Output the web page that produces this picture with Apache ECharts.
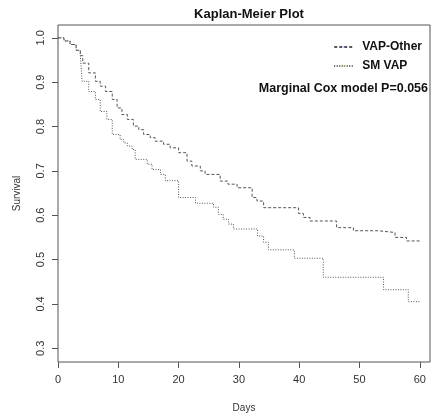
<!DOCTYPE html>
<html>
<head>
<meta charset="utf-8">
<script src="https://cdn.jsdelivr.net/npm/echarts@6/dist/echarts.min.js"></script>
<style>
  html, body { margin: 0; padding: 0; background: #fff; }
  #main { width: 435px; height: 418px; }
</style>
</head>
<body>
<div id="main"></div>
<script>
// survival estimates (step down at each day)
var otherDays = [0, 1.0, 2.0, 3.0, 3.7, 4.1, 5.1, 6.2, 7.0, 7.9, 9.0, 9.8, 10.6, 11.5, 12.5, 13.4, 14.2, 15.3, 16.1, 17.5, 18.6, 20.0, 21.4, 22.2, 23.6, 24.4, 26.9, 28.2, 29.7, 32.2, 33.0, 34.1, 39.9, 40.7, 41.8, 46.2, 49.0, 53.1, 55.9, 57.8, 60.0];
var otherSurv = [1.0, 0.993, 0.985, 0.972, 0.96, 0.943, 0.921, 0.902, 0.891, 0.879, 0.861, 0.842, 0.827, 0.816, 0.801, 0.793, 0.782, 0.775, 0.767, 0.760, 0.752, 0.741, 0.722, 0.711, 0.700, 0.692, 0.677, 0.670, 0.662, 0.640, 0.632, 0.617, 0.604, 0.595, 0.587, 0.572, 0.565, 0.561, 0.550, 0.542, 0.542];

var smDays = [0, 1.0, 2.0, 3.0, 3.7, 4.0, 5.1, 6.2, 7.0, 8.1, 9.0, 10.3, 10.9, 11.5, 12.3, 12.8, 14.8, 15.6, 17.0, 17.8, 20.0, 22.8, 25.8, 26.6, 27.4, 28.3, 29.1, 33.1, 34.1, 34.9, 39.2, 44.0, 54.0, 58.1, 60.0];
var smSurv = [1.0, 0.993, 0.985, 0.972, 0.96, 0.902, 0.879, 0.861, 0.834, 0.816, 0.782, 0.771, 0.763, 0.756, 0.748, 0.726, 0.715, 0.703, 0.692, 0.678, 0.640, 0.627, 0.618, 0.602, 0.591, 0.580, 0.569, 0.553, 0.539, 0.522, 0.503, 0.460, 0.432, 0.405, 0.405];

var xTicks = [0, 10, 20, 30, 40, 50, 60];
var yTicks = [0.3, 0.4, 0.5, 0.6, 0.7, 0.8, 0.9, 1.0];

function pairs(xs, ys) {
  return xs.map(function (x, i) { return [x, ys[i]]; });
}

var font = 'Liberation Sans, Arial, sans-serif';
var chart = echarts.init(document.getElementById('main'));

chart.setOption({
  animation: false,
  backgroundColor: '#fff',
  title: {
    text: 'Kaplan-Meier Plot',
    left: 244, top: 3, textAlign: 'center',
    textStyle: { fontFamily: font, fontSize: 13, fontWeight: 'bold', color: '#111' }
  },
  legend: {
    orient: 'vertical', right: 8, top: 36,
    itemWidth: 20, itemHeight: 2, itemGap: 7,
    textStyle: { fontFamily: font, fontSize: 12, fontWeight: 'bold', color: '#111', padding: [0, 0, 0, 3] },
    data: ['VAP-Other', 'SM VAP']
  },
  graphic: [{
    type: 'text', right: 7, top: 82,
    style: { text: 'Marginal Cox model P=0.056', font: 'bold 12.5px ' + font, fill: '#111' }
  }],
  grid: {
    left: 58, right: 5, top: 25, bottom: 54,
    show: true, borderColor: '#555', borderWidth: 1
  },
  xAxis: {
    type: 'value', min: 0, max: 61.7,
    name: 'Days', nameLocation: 'middle', nameGap: 41,
    nameTextStyle: { fontFamily: font, fontSize: 10, color: '#333' },
    axisLine: { show: false },
    splitLine: { show: false },
    axisTick: { show: true, inside: false, length: 6, lineStyle: { color: '#555' }, customValues: xTicks },
    axisLabel: { fontFamily: font, fontSize: 11, color: '#333', margin: 12, customValues: xTicks }
  },
  yAxis: {
    type: 'value', min: 0.269, max: 1.029,
    name: 'Survival', nameLocation: 'middle', nameGap: 36, nameRotate: 90,
    nameTextStyle: { fontFamily: font, fontSize: 10, color: '#333' },
    axisLine: { show: false },
    splitLine: { show: false },
    axisTick: { show: true, inside: false, length: 6, lineStyle: { color: '#555' }, customValues: yTicks },
    axisLabel: {
      fontFamily: font, fontSize: 11, color: '#333', margin: 12, rotate: 90,
      customValues: yTicks,
      formatter: function (v) { return v.toFixed(1); }
    }
  },
  series: [{
    name: 'VAP-Other', type: 'line', step: 'end', showSymbol: false, symbol: 'none',
    lineStyle: { color: '#555', width: 1, type: [3, 2] },
    data: pairs(otherDays, otherSurv)
  }, {
    name: 'SM VAP', type: 'line', step: 'end', showSymbol: false, symbol: 'none',
    lineStyle: { color: '#555', width: 1, type: [1, 1.5] },
    data: pairs(smDays, smSurv)
  }]
});
</script>
</body>
</html>
